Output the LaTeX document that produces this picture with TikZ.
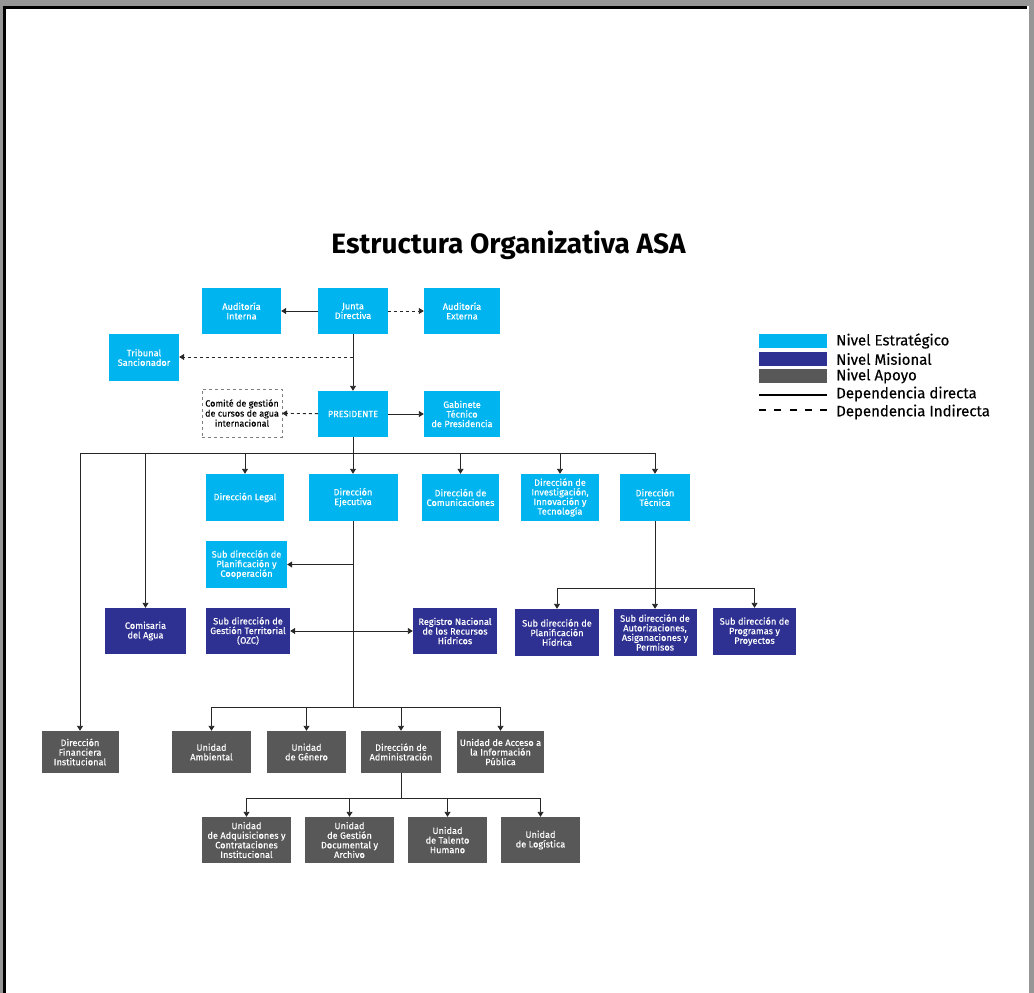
\documentclass[tikz,border=0pt]{standalone}
\usepackage{fontspec}
\setmainfont{Fira Sans}
\newfontfamily\unitfont[FakeBold=0.3]{Fira Sans}
\usetikzlibrary{arrows.meta}
\definecolor{asacyan}{RGB}{0,180,240}
\definecolor{asanavy}{RGB}{46,49,146}
\definecolor{asagray}{RGB}{88,88,88}
\definecolor{framegray}{RGB}{150,150,150}
\tikzset{
  unit/.style={
    rectangle,
    minimum width=78pt,
    minimum height=47pt,
    inner sep=1pt,
    align=center,
    text=white,
    font=\unitfont\fontsize{9.2}{9.6}\selectfont
  },
  unit-strategic/.style={unit, fill=asacyan},
  unit-mission/.style={unit, fill=asanavy},
  unit-support/.style={unit, fill=asagray, minimum height=42pt},
  unit-outline/.style={unit, draw=gray, dashed, fill=white, text=black,
    font=\unitfont\fontsize{9}{10}\selectfont},
  trunk/.style={draw=black!85, line width=0.9pt},
  link/.style={trunk, -{Triangle[width=6pt,length=5pt]}},
  link-dashed/.style={link, dash pattern=on 3pt off 3pt},
  link-both/.style={trunk, {Triangle[width=6pt,length=5pt]}-{Triangle[width=6pt,length=5pt]}},
  legend-text/.style={anchor=west, inner sep=0pt, font=\unitfont\fontsize{15}{17}\selectfont}
}
\newcommand{\pageframe}{
  \useasboundingbox (0,0) rectangle (1034,993);
  \fill[framegray] (0,0) rectangle (1034,6);
  \fill[framegray] (0,0) rectangle (3,993);
  \fill[framegray] (1029,6) rectangle (1034,993);
  \fill[black] (3,6) rectangle (1027,9);
  \fill[black] (3,6) rectangle (6,993);
}

\begin{document}
\begin{tikzpicture}[x=1pt,y=-1pt]
  \pageframe

  % Title
  \node[font=\bfseries\fontsize{28}{32}\selectfont] (title) at (508.5,245) {Estructura Organizativa ASA};

  % Board and presidency
  \node[unit-strategic, minimum width=79pt, minimum height=46pt] (aud-int) at (241.5,311) {Auditoría\\Interna};
  \node[unit-strategic, minimum width=70pt, minimum height=46pt] (junta) at (353,311) {Junta\\Directiva};
  \node[unit-strategic, minimum width=76pt, minimum height=46pt] (aud-ext) at (462,311) {Auditoría\\Externa};
  \node[unit-strategic, minimum width=70pt] (tribunal) at (144,357.5) {Tribunal\\Sancionador};
  \node[unit-outline, minimum width=80pt, minimum height=48pt] (comite) at (242,413) {Comité de gestión\\de cursos de agua\\internacional};
  \node[unit-strategic, minimum width=70pt, minimum height=46pt] (pres) at (353,414) {PRESIDENTE};
  \node[unit-strategic, minimum width=76pt, minimum height=46pt] (gabinete) at (462,414) {Gabinete\\Técnico\\de Presidencia};

  % Directions
  \node[unit-strategic] (legal) at (245,497.5) {Dirección Legal};
  \node[unit-strategic, minimum width=89pt] (ejecutiva) at (353,497.5) {Dirección\\Ejecutiva};
  \node[unit-strategic, minimum width=77pt] (comunic) at (460.5,497.5) {Dirección de\\Comunicaciones};
  \node[unit-strategic] (investig) at (560,497.5) {Dirección de\\Investigación,\\Innovación y\\Tecnología};
  \node[unit-strategic, minimum width=70pt] (tecnica) at (655,497.5) {Dirección\\Técnica};
  \node[unit-strategic, minimum width=81pt] (plan-coop) at (246.5,564.5) {Sub dirección de\\Planificación y\\Cooperación};

  % Mission level
  \node[unit-mission, minimum width=81pt, minimum height=46pt] (comisaria) at (145.5,631) {Comisaria\\del Agua};
  \node[unit-mission, minimum width=84pt, minimum height=46pt] (gest-terr) at (248,631) {Sub dirección de\\Gestión Territorial\\(OZC)};
  \node[unit-mission, minimum width=84pt, minimum height=46pt] (registro) at (455,631) {Registro Nacional\\de los Recursos\\Hídricos};
  \node[unit-mission, minimum width=84pt] (plan-hid) at (557,632.5) {Sub dirección de\\Planificación\\Hídrica};
  \node[unit-mission, minimum width=83pt] (autoriz) at (655,632.5) {Sub dirección de\\Autorizaciones,\\Asiganaciones y\\Permisos};
  \node[unit-mission, minimum width=83pt] (programas) at (754.5,631.5) {Sub dirección de\\Programas y\\Proyectos};

  % Support level
  \node[unit-support, minimum width=77pt] (financiera) at (80,752) {Dirección\\Financiera\\Institucional};
  \node[unit-support, minimum width=79pt] (ambiental) at (211.5,752) {Unidad\\Ambiental};
  \node[unit-support, minimum width=79pt] (genero) at (306.5,752) {Unidad\\de Género};
  \node[unit-support, minimum width=80pt] (admin) at (401,752) {Dirección de\\Administración};
  \node[unit-support, minimum width=87pt] (acceso) at (500.5,752) {Unidad de Acceso a\\la Información\\Pública};
  \node[unit-support, minimum width=89pt, minimum height=46pt] (adquis) at (246.5,840) {Unidad\\de Adquisiciones y\\Contrataciones\\Institucional};
  \node[unit-support, minimum width=89pt, minimum height=46pt] (gest-doc) at (349.5,840) {Unidad\\de Gestión\\Documental y\\Archivo};
  \node[unit-support, minimum width=79pt, minimum height=46pt] (talento) at (447.5,840) {Unidad\\de Talento\\Humano};
  \node[unit-support, minimum width=79pt, minimum height=46pt] (logistica) at (540.5,840) {Unidad\\de Logística};

  % Branch points
  \coordinate (junta-drop) at (353,357);
  \coordinate (bus-dir) at (353,453);
  \coordinate (ej-plan) at (353,564.5);
  \coordinate (bus-uni) at (353,707);
  \coordinate (bus-tec) at (655,588);
  \coordinate (bus-adm) at (401,798);

  % Connectors
  \draw[link] (junta) -- (aud-int);
  \draw[link-dashed] (junta) -- (aud-ext);
  \draw[trunk] (junta) -- (junta-drop);
  \draw[link] (junta-drop) -- (pres);
  \draw[link-dashed] (junta-drop) -- (junta-drop -| tribunal.east);
  \draw[link-dashed] (pres) -- (comite);
  \draw[link] (pres) -- (gabinete);
  \draw[trunk] (pres) -- (bus-dir);
  \foreach \n in {financiera,comisaria,legal,ejecutiva,comunic,investig,tecnica} {
    \draw[link] (bus-dir) -| (\n);
  }
  \draw[trunk] (ejecutiva) -- (bus-uni);
  \draw[link] (ej-plan) -- (plan-coop);
  \draw[link-both] (gest-terr) -- (registro);
  \foreach \n in {ambiental,genero,admin,acceso} {
    \draw[link] (bus-uni) -| (\n);
  }
  \draw[trunk] (tecnica) -- (bus-tec);
  \foreach \n in {plan-hid,autoriz,programas} {
    \draw[link] (bus-tec) -| (\n);
  }
  \draw[trunk] (admin) -- (bus-adm);
  \foreach \n in {adquis,gest-doc,talento,logistica} {
    \draw[link] (bus-adm) -| (\n);
  }

  % Legend
  \fill[asacyan] (759,334) rectangle (827,348);
  \fill[asanavy] (759,352) rectangle (827,366);
  \fill[asagray] (759,369) rectangle (827,383);
  \draw[line width=2pt] (759,395) -- (827,395);
  \draw[line width=2pt, dash pattern=on 7pt off 8.25pt] (759,410) -- (827,410);
  \node[legend-text] (leg-strategic) at (836,341) {Nivel Estratégico};
  \node[legend-text] (leg-mission) at (836,359) {Nivel Misional};
  \node[legend-text] (leg-support) at (836,376) {Nivel Apoyo};
  \node[legend-text] (leg-direct) at (836,394) {Dependencia directa};
  \node[legend-text] (leg-indirect) at (836,412) {Dependencia Indirecta};
\end{tikzpicture}
\end{document}
